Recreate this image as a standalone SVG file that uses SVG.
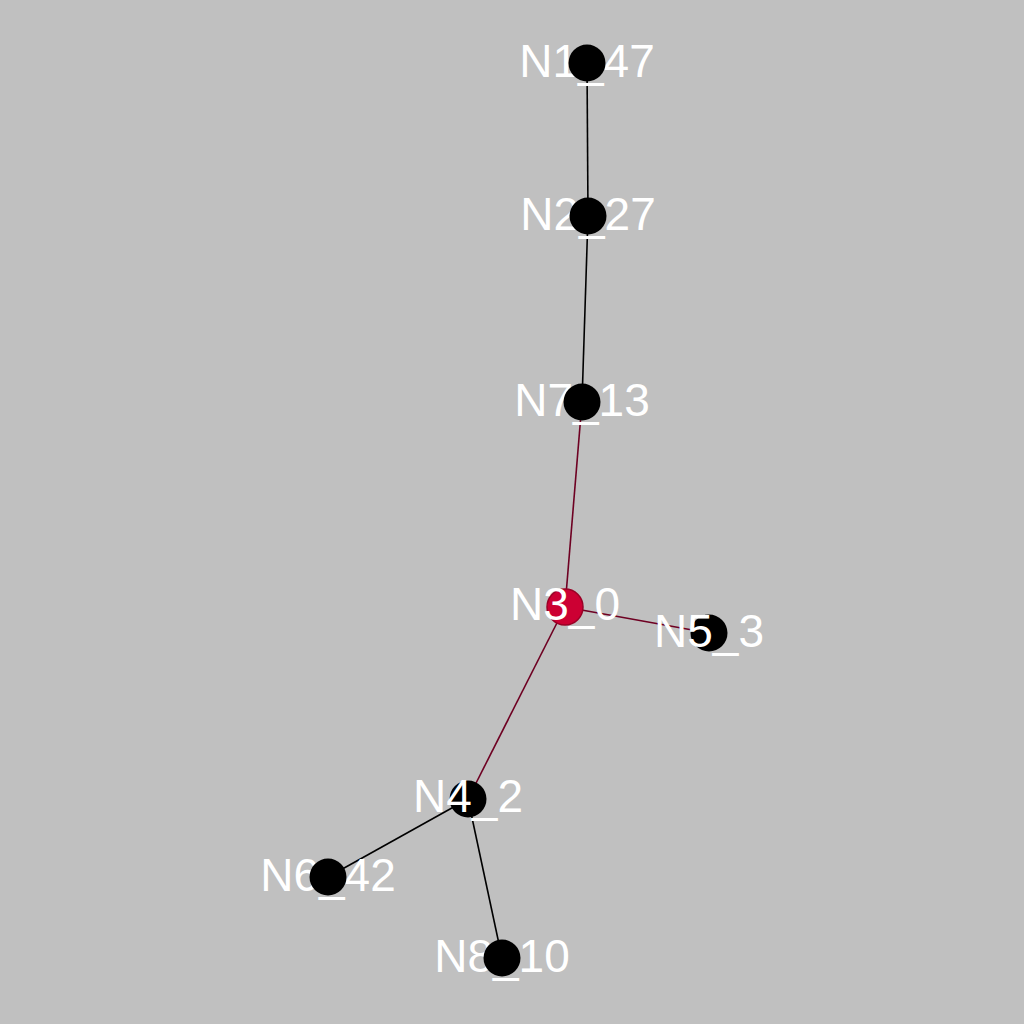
<svg xmlns="http://www.w3.org/2000/svg" width="1024" height="1024" viewBox="0 0 1024 1024">
<style>
.bg{fill:#c0c0c0}
.e{stroke:#000;stroke-width:1.6;fill:none}
.er{stroke:#6e0022;stroke-width:1.6;fill:none}
.n{fill:#000}
.nr{fill:#cc0033;stroke:#9a0026;stroke-width:1.5}
.t{font-family:"Liberation Sans",Arial,sans-serif;font-size:46px;fill:#fff;text-anchor:middle}
</style>
<rect class="bg" x="0" y="0" width="1024" height="1024"/>
<g id="connectors">
<line class="e" x1="587" y1="63" x2="588" y2="216"/>
<line class="e" x1="588" y1="216" x2="582" y2="402"/>
<line class="er" x1="582" y1="402" x2="565" y2="607"/>
<line class="er" x1="565" y1="607" x2="709" y2="633"/>
<line class="er" x1="565" y1="607" x2="468" y2="799"/>
<line class="e" x1="468" y1="799" x2="328" y2="877"/>
<line class="e" x1="468" y1="799" x2="502" y2="958"/>
</g>
<g id="N1"><text class="t" x="587" y="77">N1_47</text><circle class="n" cx="587" cy="63" r="18.5"/></g>
<g id="N2"><text class="t" x="588" y="230">N2_27</text><circle class="n" cx="588" cy="216" r="18.5"/></g>
<g id="N7"><text class="t" x="582" y="416">N7_13</text><circle class="n" cx="582" cy="402" r="18.5"/></g>
<g id="N3"><circle class="nr" cx="565" cy="607" r="18"/><text class="t" x="565" y="620">N3_0</text></g>
<g id="N5"><circle class="n" cx="709" cy="633" r="18.5"/><text class="t" x="709" y="647">N5_3</text></g>
<g id="N4"><circle class="n" cx="468" cy="799" r="18.5"/><text class="t" x="468" y="812">N4_2</text></g>
<g id="N6"><text class="t" x="328" y="891">N6_42</text><circle class="n" cx="328" cy="877" r="18.5"/></g>
<g id="N8"><text class="t" x="502" y="972">N8_10</text><circle class="n" cx="502" cy="958" r="18.5"/></g>
</svg>
